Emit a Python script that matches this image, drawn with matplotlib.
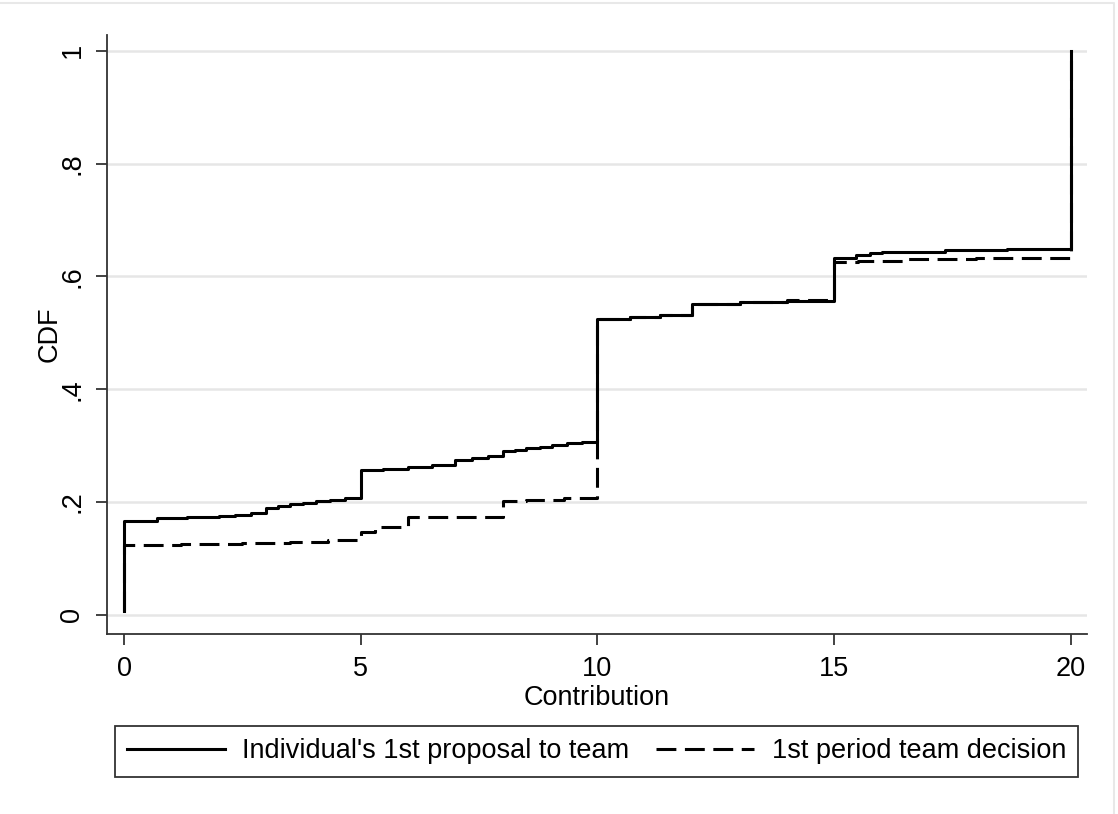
import matplotlib.pyplot as plt
from matplotlib.lines import Line2D

plt.rcParams["font.family"] = ["Liberation Sans", "DejaVu Sans"]

# step points (x where the CDF changes, value after the change)
indiv_x = [0, 0, 0.69, 1.33, 2.0, 2.34, 2.69, 3.0, 3.26, 3.5, 3.78, 4.06, 4.34, 4.66,
           5.0, 5.48, 6.0, 6.5, 7.0, 7.36, 7.69, 8.0, 8.26, 8.5, 8.79, 9.03, 9.35, 9.67,
           10.0, 10.68, 11.32, 12.0, 13.0, 14.0, 15.0, 15.47, 15.76, 16.0, 17.34, 18.64, 20.0]
indiv_y = [0.006, 0.167, 0.171, 0.173, 0.1755, 0.177, 0.180, 0.190, 0.193, 0.196, 0.199, 0.202, 0.204, 0.207,
           0.257, 0.259, 0.262, 0.265, 0.275, 0.278, 0.281, 0.290, 0.293, 0.296, 0.298, 0.301, 0.304, 0.307,
           0.525, 0.528, 0.532, 0.551, 0.554, 0.557, 0.633, 0.638, 0.641, 0.644, 0.646, 0.648, 1.0]

team_x = [0, 0, 1.2, 2.5, 3.5, 4.3, 5.0, 5.3, 6.0, 8.0, 8.5, 9.3,
          10.0, 10.68, 11.32, 12.0, 13.0, 14.0, 15.0, 15.5, 16.5, 18.0, 20.0]
team_y = [0.006, 0.124, 0.126, 0.128, 0.130, 0.133, 0.146, 0.155, 0.174, 0.201, 0.204, 0.207,
          0.525, 0.528, 0.531, 0.551, 0.554, 0.559, 0.626, 0.628, 0.630, 0.632, 1.0]

x_ticks = [0, 5, 10, 15, 20]
y_ticks = [0, 0.2, 0.4, 0.6, 0.8, 1.0]
y_tick_labels = ["0", ".2", ".4", ".6", ".8", "1"]

FS = 19.5

fig = plt.figure(figsize=(11.18, 8.14), dpi=100)
# faint outline of the graph region (top and right edges only)
fig.add_artist(Line2D([0.0, 0.996, 0.996], [0.996, 0.996, 0.0], transform=fig.transFigure,
                      color="#e8e8e8", linewidth=1.5))
ax = fig.add_axes([0.0957, 0.2211, 0.8766, 0.7359])

ax.step(team_x, team_y, where="post", color="black", linewidth=2.2,
        linestyle=(0, (6.5, 2.8)), label="1st period team decision")
ax.step(indiv_x, indiv_y, where="post", color="black", linewidth=2.2,
        label="Individual's 1st proposal to team")

ax.set_xlim(-0.36, 20.34)
ax.set_ylim(-0.034, 1.028)
ax.set_xticks(x_ticks)
ax.set_yticks(y_ticks)
ax.set_yticklabels(y_tick_labels, rotation=90, va="center")
ax.tick_params(axis="both", labelsize=FS, length=8, width=1.3, color="#333333", direction="out")
ax.tick_params(axis="y", pad=7.5)
ax.tick_params(axis="x", pad=8)
for side in ["top", "right"]:
    ax.spines[side].set_visible(False)
for side in ["left", "bottom"]:
    ax.spines[side].set_color("#333333")
    ax.spines[side].set_linewidth(1.3)
ax.grid(axis="y", color="#e6e6e6", linewidth=1.8)
ax.set_axisbelow(True)

ax.set_xlabel("Contribution", fontsize=FS, labelpad=2)
ax.set_ylabel("CDF", fontsize=FS, labelpad=-2)

handles, labels = ax.get_legend_handles_labels()
leg = fig.legend(handles[::-1], labels[::-1], loc="center", ncol=2,
                 bbox_to_anchor=(0.5336, 0.0768), fontsize=FS, frameon=True,
                 fancybox=False, edgecolor="black", handlelength=3.6,
                 handletextpad=0.65, columnspacing=1.0, borderpad=0.45)
leg.get_frame().set_linewidth(1.3)

fig.savefig("out.png", dpi=100, facecolor="white")
